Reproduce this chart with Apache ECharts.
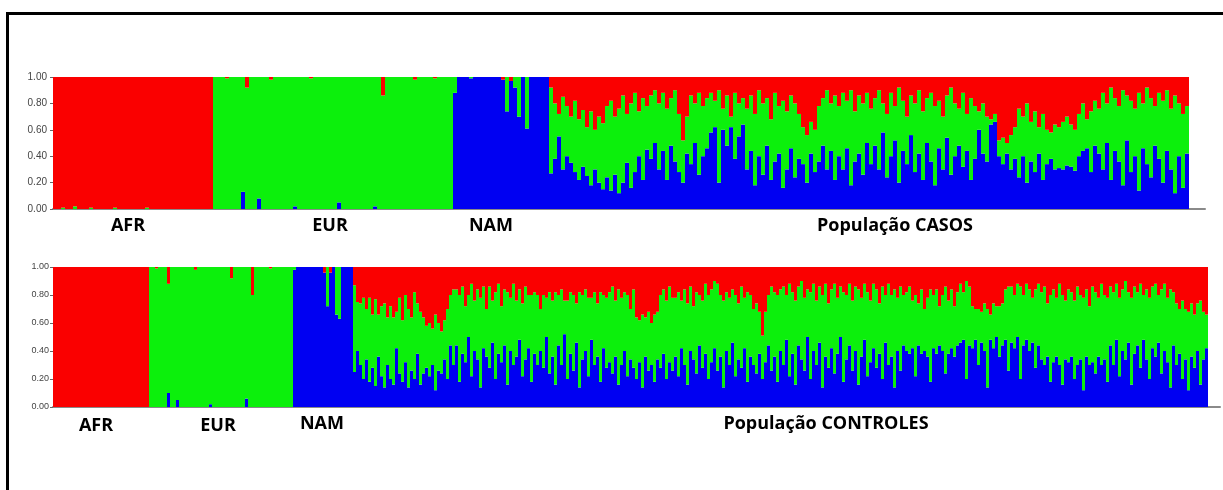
<!DOCTYPE html>
<html>
<head>
<meta charset="utf-8">
<script src="https://cdn.jsdelivr.net/npm/echarts@6/dist/echarts.min.js"></script>
<style>
html, body { margin: 0; background: #fff; }
#main { width: 1223px; height: 490px; }
</style>
</head>
<body>
<div id="main"></div>
<script>
// ancestry share per individual, in %. nam = blue, eur = green, afr (red) = what is left to 100
// groups in plot order: AFR, EUR, NAM, admixed population
var casosLabels = ['AFR', 'EUR', 'NAM', 'População CASOS'];
var casosNam = [
    [0,0,0,0,0,0,0,0,0,0, 0,0,0,0,0,0,0,0,0,0, 0,0,0,0,0,0,0,0,0,0, 0,0,0,0,0,0,0,0,0,0],
    [0,0,0,0,0,0,0,13,0,0, 0,8,0,0,0,0,0,0,0,0, 2,0,0,0,0,0,0,0,0,0, 0,5,0,0,0,0,0,0,0,0,
     2,0,0,0,0,0,0,0,0,0, 0,0,0,0,0,0,0,0,0,0],
    [88,100,100,100,99,100,100,100,100,100, 100,100,98,74,97,92,70,100,61,100, 100,100,100,100],
    [27,38,55,30,40,35,28,22,32,25,18,30,20,15,24,
     14,26,12,20,35,16,28,40,22,45,
     38,50,30,44,22,48,36,28,20,42,34,50,26,40,46,
     58,62,20,60,48,62,38,55,64,
     30,44,18,40,26,48,22,36,42,16,30,46,24,38,
     34,20,42,28,36,48,30,44,
     22,40,30,46,18,36,42,26,50,34,
     48,30,58,24,40,52,20,44,34,56,28,42,22,50,36,18,46,30,54,26,40,48,32,44,22,38,60,42,36,64,66,
     40,34,42,30,38,
     24,40,20,36,28,42,22,34,38,30,
     31,30,33,32,29,40,
     44,46,28,48,42,
     30,50,22,44,36,18,52,28,40,14,46,34,24,48,38,20,44,30,12,40,16,42]
];
var casosEur = [
    [0,0,1,0,0,2,0,0,0,1, 0,0,0,0,0,1,0,0,0,0, 0,0,0,1,0,0,0,0,0,0, 0,0,0,0,0,0,0,0,0,0],
    [100,100,100,99,100,100,100,87,92,100, 100,92,100,100,98,100,100,100,100,100,
     98,100,100,100,99,100,100,100,100,100, 100,95,100,100,100,100,100,100,100,100,
     98,100,86,100,100,100,100,100,100,100, 98,100,100,100,100,99,100,100,100,100],
    [12,0,0,0,1,0,0,0,0,0, 0,0,0,26,0,8,30,0,39,0, 0,0,0,0],
    [65,42,17,55,38,35,54,46,43,37,56,30,50,50,54,
     68,44,64,66,37,64,60,34,62,33,
     48,40,50,44,54,36,54,44,32,28,52,30,62,38,38,
     30,20,70,16,38,8,50,25,20,
     46,42,54,50,54,36,46,52,36,66,44,40,56,34,
     28,36,24,32,42,36,60,36,
     64,38,58,36,72,38,44,54,38,42,
     36,60,22,48,48,26,72,38,36,30,52,48,52,34,52,60,36,40,32,66,40,28,56,28,62,40,14,38,34,4,6,
     12,20,8,26,24,
     52,30,60,30,46,20,50,26,20,34,
     31,36,37,32,31,32,
     36,22,46,34,34,
     58,30,70,40,42,72,34,54,36,74,34,58,60,30,50,62,46,46,74,40,56,36]
];

var controlesLabels = ['AFR', 'EUR', 'NAM', 'População CONTROLES'];
var controlesNam = [
    [0,0,0,0,0,0,0,0,0,0, 0,0,0,0,0,0,0,0,0,0, 0,0,0,0,0,0,0,0,0,0, 0,0],
    [0,0,0,0,0,0,10,0,0,5, 0,0,0,0,0,0,0,0,0,0, 2,0,0,0,0,0,0,0,0,0,
     0,0,6,0,0,0,0,0,0,0, 0,0,0,0,0,0,0,0],
    [98,100,100,100,100,100,100,100,100,100, 96,72,96,100,66,63,100,100,100,100],
    [25,40,30,20,34,18,28,15,36,22,14,30,20,16,42,24,18,32,14,26,20,38,16,
     24,28,22,30,12,26,24,34,20,44,
     30,44,18,38,32,50,22,40,34,14,42,36,28,46,20,38,32,44,16,40,30,36,48,22,34,42,18,38,30,40,
     28,50,24,36,16,44,30,52,20,38,26,46,14,34,40,22,48,30,36,18,42,28,
     32,24,36,16,30,40,22,34,28,20,32,14,36,26,30,18,34,28,38,20,32,26,
     36,22,42,30,16,40,34,24,44,28,38,20,32,42,26,36,14,40,30,46,22,34,28,42,18,36,30,24,38,20,32,44,26,36,18,40,
     30,48,22,38,16,44,34,26,50,20,40,30,46,14,36,28,42,24,38,50,18,34,44,26,40,16,36,48,22,32,42,28,38,20,46,30,36,14,40,26,44,
     40,38,42,22,44,38,40,36,18,42,38,44,40,24,38,42,36,44,
     46,48,20,44,42,48,30,46,40,14,48,42,50,36,44,48,26,46,42,50,20,44,48,40,46,28,44,
     34,30,36,18,32,36,30,16,34,32,36,20,30,34,12,36,30,32,24,36,30,34,18,
     44,30,48,22,40,34,46,16,38,44,28,48,34,20,42,36,46,24,40,32,14,44,
     30,38,20,34,12,36,28,40,16,34,42]
];
var controlesEur = [
    [0,0,0,0,0,0,0,0,0,0, 0,0,0,0,0,0,0,0,0,0, 0,0,0,0,0,0,0,0,0,0, 0,0],
    [100,100,99,100,100,100,78,100,100,95, 100,100,100,100,100,98,100,100,100,100,
     98,100,100,100,100,100,100,92,100,100, 100,100,94,100,80,100,100,100,100,100,
     99,100,100,100,100,100,100,100],
    [2,0,0,0,0,0,0,0,0,0, 0,28,0,0,34,37,0,0,0,0],
    [62,35,44,58,36,60,38,62,30,50,60,34,52,48,26,54,44,48,56,38,62,36,52,
     40,30,38,26,54,34,30,28,50,36,
     54,40,62,48,40,30,66,36,50,64,44,34,58,30,62,50,40,40,66,38,58,40,36,52,52,38,62,44,50,30,
     52,28,58,40,66,36,54,24,56,44,54,28,68,46,44,56,30,52,38,64,38,50,
     50,62,40,68,48,42,58,36,56,44,30,52,28,42,30,48,34,52,46,56,54,52,
     42,60,34,54,58,46,38,58,36,48,50,60,52,48,62,44,62,42,48,38,58,40,58,36,64,44,40,50,30,31,36,36,60,46,62,44,
     56,32,66,44,60,42,56,52,34,62,48,46,40,66,52,46,42,64,40,36,64,46,44,50,46,68,42,40,60,44,46,56,36,66,34,58,44,70,38,60,36,
     42,48,34,58,30,46,30,42,66,38,46,28,40,62,38,42,36,38,
     42,34,70,42,30,22,40,22,34,56,18,32,22,36,30,36,60,40,38,38,66,36,40,44,32,56,44,
     48,56,38,62,52,42,58,64,42,52,46,56,56,46,66,48,42,54,58,42,58,46,60,
     42,52,40,56,44,56,36,62,48,38,60,32,50,58,44,52,34,60,48,46,70,38,
     44,32,56,36,56,38,38,34,60,34,24]
];
var yTicks = [0, 20, 40, 60, 80, 100];

(function () {
    var myChart = echarts.init(document.getElementById('main'));

    var RED = '#fa0000', GREEN = '#0cf00c', BLUE = '#0000f2';

    function panel(nam, eur, pad) {
        var b = nam.flat(), g = eur.flat();
        var r = b.map(function (v, i) { return 100 - v - g[i]; });
        var cats = [];
        for (var i = 0; i < b.length + pad; i++) cats.push(String(i));
        return { b: b, g: g, r: r, cats: cats };
    }
    var top = panel(casosNam, casosEur, 4);
    var bot = panel(controlesNam, controlesEur, 4);

    function xAxis(idx, cats) {
        return {
            type: 'category', gridIndex: idx, data: cats,
            axisLine: { show: true, lineStyle: { color: '#8a8a8a', width: 2 } },
            axisTick: { show: false }, axisLabel: { show: false }, splitLine: { show: false }
        };
    }
    function yAxis(idx, size, margin) {
        return {
            type: 'value', gridIndex: idx, min: yTicks[0], max: yTicks[yTicks.length - 1], interval: 20,
            axisLine: { show: false },
            axisTick: { show: true, length: 3, lineStyle: { color: '#666' } },
            axisLabel: {
                margin: margin, color: '#444', fontSize: size, fontFamily: '"Liberation Sans", Arial',
                formatter: function (v) { return (v / 100).toFixed(2); }
            },
            splitLine: { show: false }
        };
    }
    function bars(idx, data, color, stack) {
        return {
            type: 'bar', stack: stack, xAxisIndex: idx, yAxisIndex: idx,
            barCategoryGap: '0%', barGap: '0%', data: data,
            itemStyle: { color: color }, silent: true
        };
    }
    function label(text, x, y) {
        return {
            type: 'text', x: x, y: y,
            style: { text: text, fill: '#000', font: 'bold 18px "Open Sans"', align: 'center', verticalAlign: 'middle' }
        };
    }

    var option = {
        animation: false,
        grid: [
            { left: 53, top: 77, width: 1152, height: 132 },
            { left: 53, top: 267, width: 1167, height: 140 }
        ],
        xAxis: [xAxis(0, top.cats), xAxis(1, bot.cats)],
        yAxis: [yAxis(0, 10, 6), yAxis(1, 9, 4)],
        series: [
            bars(0, top.b, BLUE, 'casos'),
            bars(0, top.g, GREEN, 'casos'),
            bars(0, top.r, RED, 'casos'),
            bars(1, bot.b, BLUE, 'controles'),
            bars(1, bot.g, GREEN, 'controles'),
            bars(1, bot.r, RED, 'controles')
        ],
        graphic: [
            {
                type: 'rect', shape: { x: 7.5, y: 13.5, width: 1400, height: 700 },
                style: { fill: 'none', stroke: '#000', lineWidth: 3 }
            },
            label(casosLabels[0], 128, 226),
            label(casosLabels[1], 330, 226),
            label(casosLabels[2], 491, 226),
            label(casosLabels[3], 895, 226),
            label(controlesLabels[0], 96, 426),
            label(controlesLabels[1], 218, 426),
            label(controlesLabels[2], 322, 424),
            label(controlesLabels[3], 826, 424)
        ]
    };

    myChart.setOption(option);

    window.addEventListener('resize', function () {
        myChart.resize();
    });
})();
</script>
</body>
</html>
